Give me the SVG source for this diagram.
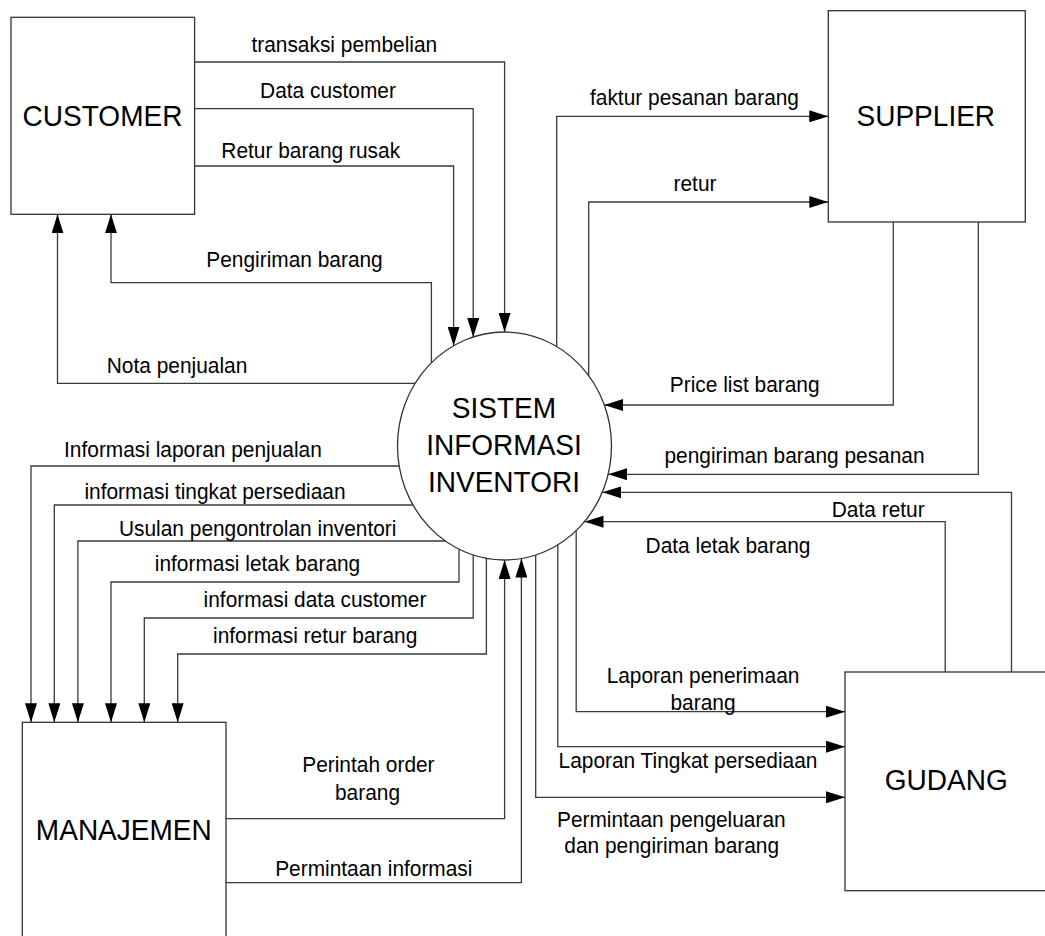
<svg xmlns="http://www.w3.org/2000/svg" width="1045" height="936" viewBox="0 0 1045 936">
<style>
.box{fill:#fff;stroke:#333;stroke-width:1.3}
.conn path{fill:none;stroke:#3a3a3a;stroke-width:1.3;marker-end:url(#ah)}
.conn path.nm{marker-end:none}
text{font-family:"Liberation Sans",Arial,sans-serif;fill:#000;text-anchor:middle}
.ent{font-size:29.5px}
.lbl{font-size:22px}
</style>
<defs>
<marker id="ah" markerWidth="19" markerHeight="12" refX="19" refY="6" orient="auto" markerUnits="userSpaceOnUse"><path d="M0,0 L19,6 L0,12 z" fill="#000"/></marker>
</defs>
<rect width="1045" height="936" fill="#fff"/>
<g id="connectors" class="conn">
<path d="M195,62 H504.6 V332"/>
<path d="M195,108.7 H473.2 V337"/>
<path d="M195,166 H453.6 V345.7"/>
<path d="M431.4,362.7 V282.7 H111 V214.3"/>
<path d="M415.1,383.3 H57.5 V214.3"/>
<path d="M556.7,346.5 V116.3 H828.3"/>
<path d="M588.7,375.6 V202 H828.3"/>
<path d="M893.3,222 V405 H604.3"/>
<path d="M978.3,222 V474.3 H608.2"/>
<path d="M1011.5,672 V492.3 H602.3"/>
<path d="M945.2,672 V521.7 H584.5"/>
<path d="M576.2,530.6 V711.7 H845"/>
<path d="M557.8,544.9 V746.7 H845"/>
<path d="M535.7,555 V797.3 H845"/>
<path d="M399.1,466 H31 V722.3"/>
<path d="M412.9,505 H54.3 V722.3"/>
<path d="M445.3,541 H77.9 V722.3"/>
<path d="M459,549.2 V582 H111 V722.3"/>
<path d="M473.2,555 V618 H144.3 V722.3"/>
<path d="M486.4,558.4 V654 H177.7 V722.3"/>
<path d="M226,818.7 H504.6 V560"/>
<path d="M226,882.7 H521.4 V558.6"/>
</g>
<g id="labels" class="lbl">
<text transform="translate(344.3,51.7) scale(0.95,1)">transaksi pembelian</text>
<text transform="translate(328,97.7) scale(0.95,1)">Data customer</text>
<text transform="translate(310.7,158.3) scale(0.95,1)">Retur barang rusak</text>
<text transform="translate(294.5,266.7) scale(0.95,1)">Pengiriman barang</text>
<text transform="translate(177,373.3) scale(0.95,1)">Nota penjualan</text>
<text transform="translate(694.5,105) scale(0.95,1)">faktur pesanan barang</text>
<text transform="translate(695,190.7) scale(0.95,1)">retur</text>
<text transform="translate(744.7,391.7) scale(0.95,1)">Price list barang</text>
<text transform="translate(794.5,463.3) scale(0.95,1)">pengiriman barang pesanan</text>
<text transform="translate(878.2,517.3) scale(0.95,1)">Data retur</text>
<text transform="translate(728,553.3) scale(0.95,1)">Data letak barang</text>
<text transform="translate(703,682.7) scale(0.95,1)">Laporan penerimaan</text>
<text transform="translate(703,710) scale(0.95,1)">barang</text>
<text transform="translate(688,768.3) scale(0.95,1)">Laporan Tingkat persediaan</text>
<text transform="translate(671.3,826.7) scale(0.95,1)">Permintaan pengeluaran</text>
<text transform="translate(671.7,853.3) scale(0.95,1)">dan pengiriman barang</text>
<text transform="translate(192.9,456.7) scale(0.95,1)">Informasi laporan penjualan</text>
<text transform="translate(215,499.3) scale(0.95,1)">informasi tingkat persediaan</text>
<text transform="translate(257.7,535.7) scale(0.95,1)">Usulan pengontrolan inventori</text>
<text transform="translate(257.5,570.7) scale(0.95,1)">informasi letak barang</text>
<text transform="translate(315,606.7) scale(0.95,1)">informasi data customer</text>
<text transform="translate(315.2,643.3) scale(0.95,1)">informasi retur barang</text>
<text transform="translate(368.4,771.7) scale(0.95,1)">Perintah order</text>
<text transform="translate(367.5,800) scale(0.95,1)">barang</text>
<text transform="translate(373.8,876) scale(0.95,1)">Permintaan informasi</text>
</g>
<g id="customer">
<rect class="box" x="11" y="17.3" width="183.6" height="197"/>
<text class="ent" transform="translate(102.5,126) scale(0.95,1)">CUSTOMER</text>
</g>
<g id="supplier">
<rect class="box" x="828.3" y="10.7" width="197" height="211.3"/>
<text class="ent" transform="translate(925.8,126) scale(0.95,1)">SUPPLIER</text>
</g>
<g id="sistem">
<ellipse class="box" cx="504.5" cy="446" rx="107" ry="114" style="fill:none"/>
<text class="ent" transform="translate(504,418.3) scale(0.95,1)">SISTEM</text>
<text class="ent" transform="translate(504,455) scale(0.95,1)">INFORMASI</text>
<text class="ent" transform="translate(504,491.7) scale(0.95,1)">INVENTORI</text>
</g>
<g id="manajemen">
<rect class="box" x="22.3" y="722.3" width="203.7" height="230"/>
<text class="ent" transform="translate(123.8,840) scale(0.95,1)">MANAJEMEN</text>
</g>
<g id="gudang">
<rect class="box" x="845" y="672" width="220" height="218.7"/>
<text class="ent" transform="translate(946.2,790) scale(0.95,1)">GUDANG</text>
</g>
</svg>
